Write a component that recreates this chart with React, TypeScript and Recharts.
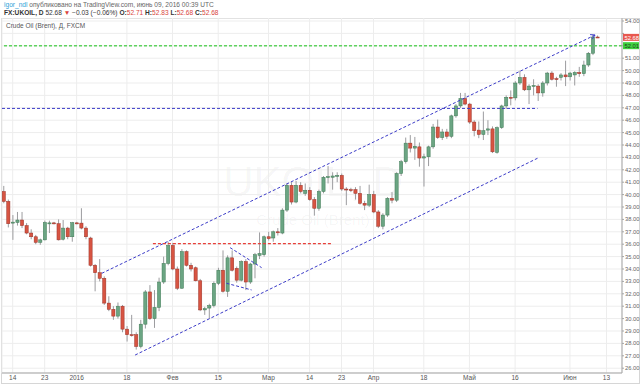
import React from "react";
import {
  ComposedChart, Bar, XAxis, YAxis, CartesianGrid, ReferenceLine, ReferenceDot,
} from "recharts";

// daily bars, index 0 = 14 Dec 2015 (weekdays only), last bar 09 Jun 2016
const firstIndex = -2;

const opens = [
  40.25, 39.45, 37.7, 37.75, 37.95, 37.5, 36.9, 36.6, 36.15, 36.35,
  37.7, 37.72, 37.65, 36.4, 37.3, 36.6, 37.72, 37.7, 37.3, 36.5,
  34.3, 33.7, 33.25, 31.25, 30.75, 30.2, 31.0, 29.15, 28.7, 28.7,
  27.75, 29.55, 32.15, 30.0, 30.9, 32.95, 34.45, 35.9, 34.0, 32.45,
  35.4, 34.3, 34.1, 33.05, 30.7, 30.85, 31.05, 32.85, 33.9, 32.2,
  34.9, 34.05, 33.1, 34.6, 32.95, 34.4, 35.1, 35.15, 36.6, 36.5,
  37.0, 36.9, 38.75, 40.75, 39.4, 40.75, 40.1, 40.35, 39.6, 38.9,
  40.25, 41.4, 41.4, 41.5, 41.55, 40.45, 40.4, 40.4, 40.1, 39.3,
  39.15, 40.0, 38.6, 37.45, 38.35, 39.7, 39.55, 41.7, 42.65, 44.15,
  43.75, 43.85, 42.95, 43.05, 43.85, 45.45, 44.6, 45.05, 44.7, 46.35,
  47.15, 47.75, 47.3, 45.85, 45.2, 44.85, 45.2, 45.3, 43.4, 45.4,
  47.15, 47.85, 47.8, 49.0, 49.45, 48.45, 48.75, 48.75, 48.2, 49.0,
  49.8, 49.35, 49.45, 49.65, 49.5, 49.65, 49.85, 49.75, 50.45, 51.4,
  52.71,
];
const highs = [
  40.7, 39.6, 38.35, 38.6, 38.6, 37.7, 37.2, 36.75, 36.45, 37.9,
  37.9, 37.8, 38.0, 37.95, 37.4, 37.8, 37.8, 38.9, 37.45, 36.6,
  34.4, 34.8, 33.4, 31.8, 31.0, 31.3, 31.1, 29.4, 30.3, 28.9,
  29.9, 32.3, 32.7, 32.3, 33.3, 35.0, 36.2, 36.1, 34.2, 35.6,
  35.5, 34.5, 34.2, 33.2, 30.95, 31.2, 33.0, 34.1, 35.5, 35.1,
  35.5, 34.2, 34.7, 34.8, 34.5, 35.3, 36.95, 36.7, 37.0, 37.1,
  37.3, 38.9, 40.9, 41.0, 41.1, 41.0, 40.9, 40.6, 39.8, 40.4,
  41.5, 42.3, 41.8, 41.8, 41.7, 40.6, 40.55, 40.6, 40.7, 39.5,
  40.8, 40.3, 38.75, 38.5, 39.8, 40.2, 41.8, 42.8, 44.6, 44.8,
  44.65, 44.2, 43.3, 43.95, 45.7, 46.05, 45.3, 45.3, 46.45, 47.3,
  48.2, 48.2, 47.4, 46.0, 45.9, 46.7, 46.0, 45.5, 45.5, 47.25,
  48.0, 48.4, 49.15, 50.0, 49.7, 48.9, 49.3, 48.9, 49.15, 49.9,
  49.95, 49.5, 49.8, 50.8, 49.9, 49.95, 50.3, 50.8, 51.5, 52.9,
  52.83,
];
const lows = [
  39.3, 37.35, 36.35, 37.5, 37.3, 36.8, 36.4, 36.0, 35.95, 36.3,
  36.9, 37.6, 36.3, 36.3, 36.4, 36.2, 37.6, 37.2, 36.4, 34.2,
  32.2, 33.0, 31.1, 30.6, 29.9, 30.0, 28.9, 28.15, 28.55, 27.5,
  27.6, 29.2, 29.9, 29.25, 30.6, 32.8, 34.3, 33.9, 32.3, 32.4,
  34.2, 33.8, 33.0, 30.6, 30.3, 30.0, 30.9, 32.7, 32.1, 31.75,
  33.8, 32.9, 33.0, 32.3, 32.8, 33.25, 34.8, 35.0, 36.3, 36.2,
  36.7, 36.8, 38.6, 39.2, 39.3, 40.1, 39.9, 39.5, 38.3, 38.7,
  40.1, 40.9, 40.4, 41.0, 40.3, 39.15, 40.2, 39.6, 39.2, 38.75,
  39.0, 38.5, 37.3, 37.2, 38.2, 39.3, 39.4, 41.5, 42.5, 43.4,
  42.8, 42.25, 40.65, 42.3, 43.7, 44.5, 44.4, 44.5, 44.55, 46.2,
  47.0, 47.2, 45.7, 44.7, 44.55, 44.4, 44.8, 43.35, 43.3, 45.3,
  46.9, 47.2, 47.6, 48.85, 48.35, 47.3, 48.0, 47.55, 47.9, 48.8,
  49.2, 48.7, 49.2, 48.75, 49.2, 48.8, 49.5, 49.55, 50.3, 51.25,
  52.68,
];
const closes = [
  39.45, 37.65, 37.78, 37.95, 37.5, 36.9, 36.6, 36.15, 36.35, 37.75,
  37.72, 37.68, 36.35, 37.3, 36.6, 37.73, 37.7, 37.3, 36.6, 34.3,
  33.7, 33.25, 31.25, 30.75, 30.2, 31.0, 29.15, 28.7, 28.65, 27.75,
  29.55, 32.15, 30.0, 30.9, 32.95, 34.45, 35.9, 34.0, 32.45, 35.4,
  34.3, 34.0, 33.05, 30.7, 30.8, 31.05, 32.85, 33.9, 32.2, 34.9,
  33.9, 33.1, 34.6, 32.95, 34.4, 35.15, 35.25, 36.6, 36.45, 37.0,
  36.95, 38.75, 40.75, 39.4, 40.75, 40.25, 40.35, 39.6, 38.9, 40.25,
  41.4, 41.45, 41.5, 41.55, 40.45, 40.4, 40.38, 40.1, 39.3, 39.15,
  40.0, 38.6, 37.45, 38.35, 39.7, 39.55, 41.7, 42.65, 44.15, 43.75,
  43.9, 42.95, 43.05, 43.85, 45.45, 44.6, 45.05, 44.7, 46.35, 47.15,
  47.75, 47.3, 45.85, 45.15, 44.85, 45.15, 45.3, 43.45, 45.4, 47.15,
  47.85, 47.8, 49.0, 49.45, 48.45, 48.75, 48.8, 48.2, 49.0, 49.8,
  49.3, 49.3, 49.65, 49.5, 49.8, 49.85, 49.75, 50.45, 51.4, 52.71,
  52.68,
];

const tickIdx = [0, 7, 14, 25, 35, 45, 56, 65, 72, 79, 90, 100, 110, 122, 130];
const tickLabels = ["14", "23", "2016", "18", "Фев", "15", "Мар", "14", "23", "Апр", "18", "Май", "16", "Июн", "13"];
const priceTicks = [
  26, 27, 28, 29, 30, 31, 32, 33, 34, 35, 36, 37, 38, 39, 40,
  41, 42, 43, 44, 45, 46, 47, 48, 49, 50, 51, 52, 53, 54,
];
// price labels covered by the tags on the scale
const hiddenPriceTicks = [52, 53];

// drawings (bar index, price)
const channelTop = [{ x: 19.5, y: 33.65 }, { x: 127.5, y: 52.87 }];
const channelBottom = [{ x: 26.8, y: 27.06 }, { x: 114.9, y: 42.93 }];
const redLevel = [{ x: 30.7, y: 36.05 }, { x: 70.1, y: 36.05 }];
const blueLevel = [{ x: -2.34, y: 46.95 }, { x: 114.9, y: 46.95 }];
const flagTop = [{ x: 47.6, y: 35.72 }, { x: 54.5, y: 34.11 }];
const flagBottom = [{ x: 46.8, y: 32.85 }, { x: 52.3, y: 32.31 }];
const greenLevel = 52.01;
const lastPrice = 52.68;

const X_MIN = -2.34;
const X_MAX = 133.4;
const Y_MIN = 25.613;
const Y_MAX = 54.242;

const rows = opens.map((o, i) => ({
  k: firstIndex + i,
  open: o,
  high: highs[i],
  low: lows[i],
  close: closes[i],
}));

const UP = "#6ba583";
const DOWN = "#d75442";
const BLUE = "#3c3cc8";
const RED = "#e8403a";

function Candle(props: any) {
  const { x, y, width, height, payload } = props;
  if (x == null || y == null) return null;
  const { open, close, high, low } = payload;
  const cx = x + width / 2;
  const pxPer = high > low ? height / (high - low) : 0;
  const yO = y + (high - open) * pxPer;
  const yC = y + (high - close) * pxPer;
  const up = close >= open;
  const top = Math.min(yO, yC);
  const h = Math.max(Math.abs(yC - yO), 1);
  return (
    <g>
      <line x1={cx} x2={cx} y1={y} y2={y + Math.max(height, 1)} stroke="#9c9c9f" strokeWidth={1} />
      <rect
        x={cx - 1.6}
        y={top}
        width={3.2}
        height={h}
        fill={up ? UP : DOWN}
        stroke={up ? "#3f7a55" : "#9a3328"}
        strokeWidth={0.5}
      />
    </g>
  );
}

const priceTag = (bg: string, fg: string, text: string) => (p: any) => (
  <g>
    <rect x={p.cx + 1} y={p.cy - 3.5} width={16} height={7} fill={bg} />
    <text x={p.cx + 2.5} y={p.cy + 2.2} fontSize={5.8} fill={fg}>{text}</text>
  </g>
);

const arrowHead = (p: any) => (
  <path
    d={`M${p.cx - 5},${p.cy - 0.4} L${p.cx},${p.cy} L${p.cx - 2.8},${p.cy + 4.1}`}
    fill="none"
    stroke={BLUE}
    strokeWidth={1}
  />
);

export default function App() {
  return (
    <div
      style={{
        position: "absolute", left: 0, top: 0, width: 640, height: 384,
        background: "#fff", fontFamily: "'Liberation Sans', Arial, sans-serif", overflow: "hidden",
      }}
    >
      <div style={{ position: "absolute", left: 4, top: 1, fontSize: 6.6, color: "#666", whiteSpace: "nowrap" }}>
        <span style={{ color: "#2f9fd8" }}>igor_ndl</span> опубликовано на TradingView.com, июнь 09, 2016 00:39 UTC
      </div>
      <div style={{ position: "absolute", left: 4, top: 8.5, fontSize: 6.6, color: "#333", whiteSpace: "nowrap" }}>
        <b>FX:UKOIL, D</b> 52.68 <span style={{ color: "#d9443c" }}>▼</span> −0.03 (−0.06%){" "}
        <b>O:</b><span style={{ color: "#d9443c" }}>52.71</span>{" "}
        <b>H:</b><span style={{ color: "#d9443c" }}>52.83</span>{" "}
        <b>L:</b><span style={{ color: "#d9443c" }}>52.68</span>{" "}
        <b>C:</b><span style={{ color: "#d9443c" }}>52.68</span>
      </div>
      <div style={{ position: "absolute", left: 1, top: 18, width: 637, height: 364, border: "1px solid #d6d6d6" }} />
      {/* watermark */}
      <div style={{ position: "absolute", left: 0, width: 626, top: 158, textAlign: "center", fontSize: 42, color: "rgba(0,0,0,0.045)", whiteSpace: "nowrap" }}>
        UKOIL, D
      </div>
      <div style={{ position: "absolute", left: 0, width: 626, top: 211, textAlign: "center", fontSize: 15, color: "rgba(0,0,0,0.045)", whiteSpace: "nowrap" }}>
        Crude Oil (Brent)
      </div>
      <div style={{ position: "absolute", top: 18, left: 0 }}>
        <ComposedChart width={640} height={366} data={rows} margin={{ top: 0, right: 0, bottom: 0, left: 2 }}>
          <CartesianGrid stroke="#ededed" />
          <XAxis
            type="number"
            dataKey="k"
            domain={[X_MIN, X_MAX]}
            allowDataOverflow
            ticks={tickIdx}
            interval={0}
            tickFormatter={(v) => tickLabels[tickIdx.indexOf(v)] ?? ""}
            tick={{ fontSize: 6.5, fill: "#555" }}
            tickLine={false}
            tickSize={2}
            tickMargin={0}
            height={11}
            axisLine={{ stroke: "#a5a5a5" }}
          />
          <YAxis
            orientation="right"
            type="number"
            domain={[Y_MIN, Y_MAX]}
            allowDataOverflow
            ticks={priceTicks}
            interval={0}
            width={18}
            tickFormatter={(v) => (hiddenPriceTicks.includes(v) ? "" : Number(v).toFixed(2))}
            tick={{ fontSize: 5.8, fill: "#666", textAnchor: "start" }}
            tickSize={2}
            tickMargin={1}
            axisLine={{ stroke: "#a5a5a5" }}
            tickLine={{ stroke: "#a5a5a5" }}
          />
          <ReferenceLine y={greenLevel} stroke="#5fd35f" strokeWidth={1.5} strokeDasharray="3 2" />
          <ReferenceLine segment={blueLevel} stroke={BLUE} strokeWidth={1} strokeDasharray="3 2" ifOverflow="visible" />
          <ReferenceLine segment={redLevel} stroke={RED} strokeWidth={1.2} strokeDasharray="3 2" />
          <ReferenceLine segment={channelTop} stroke={BLUE} strokeWidth={1} strokeDasharray="3 2" />
          <ReferenceLine segment={channelBottom} stroke={BLUE} strokeWidth={1} strokeDasharray="3 2" />
          <ReferenceLine segment={flagTop} stroke={BLUE} strokeWidth={1} strokeDasharray="3 2" />
          <ReferenceLine segment={flagBottom} stroke={BLUE} strokeWidth={1} strokeDasharray="3 2" />
          <Bar
            dataKey={(d: any) => [d.low, d.high]}
            shape={<Candle />}
            barSize={3}
            isAnimationActive={false}
          />
          <ReferenceDot x={channelTop[1].x} y={channelTop[1].y} ifOverflow="visible" shape={arrowHead} />
          <ReferenceDot x={X_MAX} y={lastPrice} ifOverflow="visible" shape={priceTag("#e8574e", "#fff", lastPrice.toFixed(2))} />
          <ReferenceDot x={X_MAX} y={greenLevel} ifOverflow="visible" shape={priceTag("#3fd23f", "#1f3d1f", greenLevel.toFixed(2))} />
        </ComposedChart>
      </div>
      <div style={{ position: "absolute", left: 6, top: 22, fontSize: 6.5, color: "#555", whiteSpace: "nowrap" }}>
        Crude Oil (Brent), Д, FXCM
      </div>
    </div>
  );
}
